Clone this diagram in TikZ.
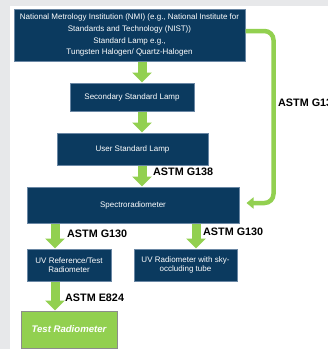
\documentclass[tikz,border=0pt]{standalone}
\usepackage{fontspec}
\setmainfont{Liberation Sans}
\usetikzlibrary{arrows.meta}
\definecolor{navy}{HTML}{0B3A5F}
\definecolor{edgeblue}{HTML}{6A87A4}
\definecolor{leaf}{HTML}{92D050}
\definecolor{boxgray}{HTML}{8C8C8C}
\definecolor{panelgray}{HTML}{E7E8EA}

\begin{document}
\begin{tikzpicture}[x=1pt, y=-1pt,
	lamp/.style={shape=rectangle, draw=edgeblue, line width=1pt, fill=navy, text=white, align=center, inner sep=1pt, font=\fontsize{8}{8.8}\selectfont},
	flow/.style={color=leaf, line width=9pt, -{Triangle[width=19pt,length=10pt]}},
	feed/.style={draw=leaf, line width=4.5pt, rounded corners=9pt, -{Triangle[width=11pt,length=7pt]}},
	std/.style={anchor=west, inner sep=0pt, font=\bfseries\fontsize{10.8}{12}\selectfont}]
			\fill[panelgray] (0,0) rectangle (328,349);
			\fill[white] (10,6) rectangle (328,349);
			\useasboundingbox (0,0) rectangle (328,349);

			\node[lamp, minimum width=231pt, minimum height=52pt, font=\fontsize{8}{11.9}\selectfont] (nmi) at (129.5,35) {National Metrology Institution (NMI) (e.g., National Institute for\\ Standards and Technology (NIST))\\ Standard Lamp e.g.,\\ Tungsten Halogen/ Quartz-Halogen};
			\node[lamp, minimum width=124pt, minimum height=28pt] (sec) at (132,97) {Secondary Standard Lamp};
			\node[lamp, minimum width=151pt, minimum height=32pt] (user) at (132.5,149) {User Standard Lamp};
			\node[lamp, minimum width=212pt, minimum height=36pt] (spec) at (133,205) {Spectroradiometer};
			\node[lamp, minimum width=84pt, minimum height=32pt] (uvref) at (69,265) {UV Reference/Test\\ Radiometer};
			\node[lamp, minimum width=103pt, minimum height=32pt] (uvsky) at (185.5,265) {UV Radiometer with sky-\\ occluding tube};
			\node[lamp, fill=leaf, draw=boxgray, minimum width=96pt, minimum height=37pt, font=\bfseries\itshape\fontsize{9.6}{11}\selectfont] (test) at (69,329.5) {Test Radiometer};

			\coordinate (cm) at (142,0);
			\coordinate (cl) at (55,0);
			\coordinate (cr) at (196,0);
			\coordinate (bend) at (273.5,203);

			\path [flow] (nmi.south -| cm) edge (sec.north -| cm);
			\path [flow] (sec.south -| cm) edge (user.north -| cm);
			\path [flow] (user.south -| cm) edge (spec.north -| cm);
			\path [flow] (spec.south -| cl) edge (uvref.north -| cl);
			\path [flow] (spec.south -| cr) edge (uvsky.north -| cr);
			\path [flow] (uvref.south -| cl) edge (test.north -| cl);
			\draw [feed] ([yshift=4pt]nmi.east) -| (bend) -- ([xshift=7pt,yshift=2pt]spec.east);

			\node[std] (g13) at (278,103) {ASTM G13};
			\node[std] (g138) at (153,172) {ASTM G138};
			\node[std] (g130a) at (67,234) {ASTM G130};
			\node[std] (g130b) at (203,232) {ASTM G130};
			\node[std] (e824) at (65,298) {ASTM E824};
		\end{tikzpicture}
\end{document}
